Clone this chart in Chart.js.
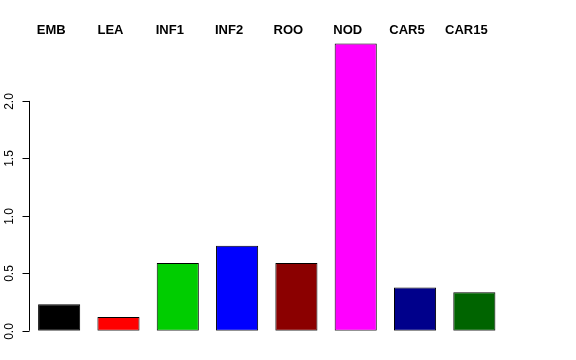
<!DOCTYPE html>
<html>
<head>
<meta charset="utf-8">
<script src="https://cdn.jsdelivr.net/npm/chart.js@4/dist/chart.umd.min.js"></script>
<style>
  html, body { margin: 0; padding: 0; background: #fff; }
  #wrap { width: 576px; height: 360px; }
</style>
</head>
<body>
<div id="wrap"><canvas id="chart" width="576" height="360"></canvas></div>
<script>
const categories = ['EMB', 'LEA', 'INF1', 'INF2', 'ROO', 'NOD', 'CAR5', 'CAR15'];
const values = [0.23, 0.12, 0.59, 0.74, 0.59, 2.50, 0.375, 0.335];
const barColors = ['#000000', '#FF0000', '#00CD00', '#0000FF', '#8B0000', '#FF00FF', '#00008B', '#006400'];
const yTicks = [0, 0.5, 1.0, 1.5, 2.0];
const yTickLabels = ['0.0', '0.5', '1.0', '1.5', '2.0'];

// R-style axis on the left + names above the bars
const rStyle = {
  id: 'rStyle',
  afterDraw(chart) {
    const ctx = chart.ctx;
    const y = chart.scales.y;
    const x = chart.scales.x;
    const axisX = 29.5;
    ctx.save();
    ctx.strokeStyle = '#000';
    ctx.lineWidth = 1;
    ctx.beginPath();
    ctx.moveTo(axisX, y.getPixelForValue(yTicks[0]));
    ctx.lineTo(axisX, y.getPixelForValue(yTicks[yTicks.length - 1]));
    ctx.stroke();
    ctx.font = '12px "Liberation Sans", Arial, sans-serif';
    ctx.fillStyle = '#000';
    ctx.textAlign = 'center';
    ctx.textBaseline = 'middle';
    yTicks.forEach((v, i) => {
      const py = Math.round(y.getPixelForValue(v)) + 0.5;
      ctx.beginPath();
      ctx.moveTo(axisX, py);
      ctx.lineTo(axisX - 7, py);
      ctx.stroke();
      ctx.save();
      ctx.translate(10, py);
      ctx.rotate(-Math.PI / 2);
      ctx.fillText(yTickLabels[i], 0, 0);
      ctx.restore();
    });

    ctx.font = 'bold 13px "Liberation Sans", Arial, sans-serif';
    categories.forEach((c, i) => {
      ctx.fillText(c, x.getPixelForValue(i) - 8, 30);
    });
    ctx.restore();
  }
};

new Chart(document.getElementById('chart'), {
  type: 'bar',
  data: {
    labels: categories,
    datasets: [{
      data: values,
      backgroundColor: barColors,
      borderColor: '#000',
      borderWidth: 1,
      borderSkipped: false,
      barPercentage: 0.71,
      categoryPercentage: 1.0
    }]
  },
  options: {
    responsive: false,
    animation: false,
    layout: { padding: { left: 29.5, right: 72, top: 32, bottom: 29.3 } },
    plugins: { legend: { display: false }, tooltip: { enabled: false } },
    scales: {
      x: { display: false },
      y: { display: false, min: 0, max: 2.6 }
    }
  },
  plugins: [rStyle]
});
</script>
</body>
</html>
